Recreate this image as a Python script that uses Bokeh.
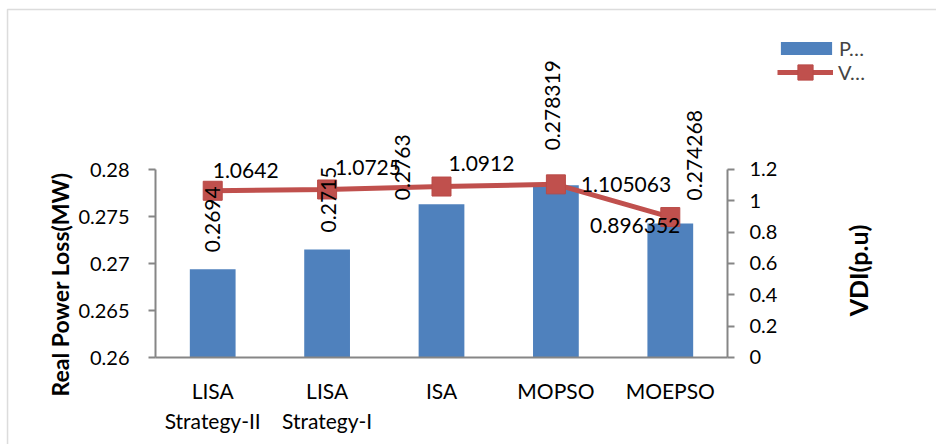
import math
from bokeh.plotting import figure
from bokeh.core.properties import value
from bokeh.models import (ColumnDataSource, Range1d, LinearAxis, FixedTicker,
                          NumeralTickFormatter, LabelSet, Label, Legend, LegendItem, BoxAnnotation)
from bokeh.embed import file_html
from bokeh.resources import INLINE

# ---- data ----
methods = ["LISA\nStrategy-II", "LISA\nStrategy-I", "ISA", "MOPSO", "MOEPSO"]
power_loss = [0.2694, 0.2715, 0.2763, 0.278319, 0.274268]
vdi = [1.0642, 1.0725, 1.0912, 1.105063, 0.896352]
power_loss_text = ["0.2694", "0.2715", "0.2763", "0.278319", "0.274268"]
vdi_text = ["1.0642", "1.0725", "1.0912", "1.105063", "0.896352"]
left_ticks = [0.26, 0.265, 0.27, 0.275, 0.28]
right_ticks = [0, 0.2, 0.4, 0.6, 0.8, 1.0, 1.2]
series_names = ["P…", "V…"]

xs = list(range(len(methods)))

# ---- label placement (pixels, styling only) ----
bar_lbl_dx = [0, 1, -39, -3, 24]
bar_lbl_dy = [17, 17, 4, 35, 23]
vdi_lbl_dx = [0, 8, 7, 25, 10]
vdi_lbl_dy = [20, 22, 23, 0, -8]

FONT = "Lato"
BLUE = "#4F81BD"
RED = "#C0504D"
GRAY = "#868686"

# view window (layout): the frame covers the whole canvas, axes sit at fixed locations
X0, X1 = -1.855, 6.327
Y0, Y1 = 0.250745, 0.297979
V0, V1 = -0.55532, 2.27872

p = figure(x_range=Range1d(X0, X1), y_range=Range1d(Y0, Y1),
           width=936, height=444, output_backend="svg", toolbar_location=None,
           min_border=0, min_border_left=0, min_border_right=0,
           min_border_top=0, min_border_bottom=0)
p.extra_y_ranges = {"vdi": Range1d(V0, V1)}
p.outline_line_color = None
p.xgrid.visible = False
p.ygrid.visible = False

# chart border (left / top edges visible)
p.add_layout(BoxAnnotation(left=-1.7937, top=0.297021, right=X1 + 5, bottom=Y0 - 0.05,
                           fill_alpha=0, line_color="#8c8c8c", line_width=1.5))

bars = ColumnDataSource(dict(x=xs, v=power_loss, t=power_loss_text, dx=bar_lbl_dx, dy=bar_lbl_dy))
bar_r = p.vbar(x="x", top="v", bottom=left_ticks[0], width=0.4, source=bars,
               fill_color=BLUE, line_color=None)

vsrc = ColumnDataSource(dict(x=xs, v=vdi))
line_r = p.line(x="x", y="v", source=vsrc, y_range_name="vdi", line_color=RED, line_width=5)
mark_r = p.scatter(x="x", y="v", source=vsrc, y_range_name="vdi", marker="square", size=19,
                   fill_color=RED, line_color="#B94A47", line_width=1)

# axes
yl = p.yaxis[0]
yl.ticker = FixedTicker(ticks=left_ticks)
yl.formatter = NumeralTickFormatter(format="0.[000]")
yl.fixed_location = xs[0] - 0.5
yl.bounds = (left_ticks[0], left_ticks[-1])
yr = LinearAxis(y_range_name="vdi", ticker=FixedTicker(ticks=right_ticks),
                formatter=NumeralTickFormatter(format="0.[0]"),
                fixed_location=xs[-1] + 0.5, bounds=(right_ticks[0], right_ticks[-1]))
p.add_layout(yr, "right")
for ax in (yl, yr):
    ax.axis_line_color = GRAY
    ax.axis_line_width = 2
    ax.major_tick_line_color = GRAY
    ax.major_tick_line_width = 2
    ax.major_tick_out = 7
    ax.major_tick_in = 0
    ax.minor_tick_line_color = None
    ax.major_label_text_font = FONT
    ax.major_label_text_font_size = "20px"
    ax.major_label_text_color = "black"
yl.major_label_standoff = 19
yr.major_label_standoff = 15

xa = p.xaxis[0]
xa.ticker = FixedTicker(ticks=xs)
xa.major_label_overrides = {i: m for i, m in zip(xs, methods)}
xa.fixed_location = left_ticks[0]
xa.bounds = (xs[0] - 0.5, xs[-1] + 0.5)
xa.axis_line_color = GRAY
xa.axis_line_width = 2
xa.major_tick_line_color = None
xa.minor_tick_line_color = None
xa.major_label_text_font = FONT
xa.major_label_text_font_size = "21px"
xa.major_label_text_color = "black"
xa.major_label_standoff = 14
xa.major_label_text_line_height = 1.2

# axis titles
p.add_layout(Label(x=xs[0] - 0.5, y=left_ticks[0], x_offset=-96, y_offset=73,
                   text="Real Power Loss(MW)", angle=math.pi / 2,
                   text_align="center", text_baseline="middle",
                   text_font=FONT, text_font_size="23px", text_font_style="bold",
                   text_color="black"))
p.add_layout(Label(x=xs[-1] + 0.5, y=left_ticks[0], x_offset=131, y_offset=87,
                   text="VDI(p.u)", angle=math.pi / 2,
                   text_align="center", text_baseline="middle",
                   text_font=FONT, text_font_size="25px", text_font_style="bold",
                   text_color="black"))

# data labels for bars (rotated)
p.add_layout(LabelSet(x="x", y="v", text="t", source=bars, angle=math.pi / 2,
                      x_offset="dx", y_offset="dy", text_align="left", text_baseline="middle",
                      text_font=value(FONT), text_font_size="21px", text_color="black"))

# data labels for VDI
n = len(methods)
vl = ColumnDataSource(dict(x=xs[:n - 1], v=vdi[:n - 1], t=vdi_text[:n - 1],
                           dx=vdi_lbl_dx[:n - 1], dy=vdi_lbl_dy[:n - 1]))
vr = ColumnDataSource(dict(x=xs[n - 1:], v=vdi[n - 1:], t=vdi_text[n - 1:],
                           dx=vdi_lbl_dx[n - 1:], dy=vdi_lbl_dy[n - 1:]))
p.add_layout(LabelSet(x="x", y="v", text="t", source=vl, y_range_name="vdi",
                      x_offset="dx", y_offset="dy", text_align="left", text_baseline="middle",
                      text_font=value(FONT), text_font_size="21px", text_color="black"))
p.add_layout(LabelSet(x="x", y="v", text="t", source=vr, y_range_name="vdi",
                      x_offset="dx", y_offset="dy", text_align="right", text_baseline="middle",
                      text_font=value(FONT), text_font_size="21px", text_color="black"))

# legends (two, so each swatch can have its own size)
leg_common = dict(orientation="vertical", label_text_font=FONT, label_text_font_size="20px",
                  padding=0, margin=0, border_line_color=None, background_fill_alpha=0)
p.add_layout(Legend(items=[LegendItem(label=series_names[0], renderers=[bar_r])],
                    location=(774, 384), glyph_width=64, glyph_height=16, label_height=16,
                    label_standoff=1, **leg_common))
p.add_layout(Legend(items=[LegendItem(label=series_names[1], renderers=[line_r, mark_r])],
                    location=(777, 353), glyph_width=56, glyph_height=38, label_height=16,
                    label_standoff=5, **leg_common))

open("out.html", "w").write(file_html(p, INLINE))
